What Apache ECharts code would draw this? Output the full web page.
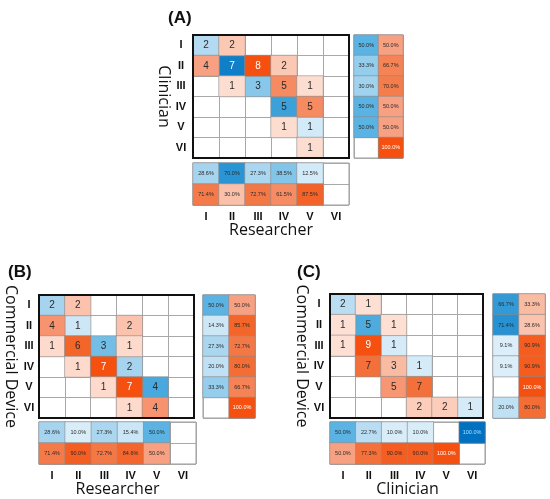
<!DOCTYPE html>
<html>
<head>
<meta charset="utf-8">
<script src="https://cdn.jsdelivr.net/npm/echarts@6/dist/echarts.min.js"></script>
<style>
  html, body { margin: 0; padding: 0; background: #fff; }
  #main { width: 550px; height: 499px; }
</style>
</head>
<body>
<div id="main"></div>
<script>
// 分级标签
var levels = ["I", "II", "III", "IV", "V", "VI"];
var sideCats = ["agree", "disagree"];

// (A) Clinician x Researcher
var countsA = [
  [2, 2, 0, 0, 0, 0],
  [4, 7, 8, 2, 0, 0],
  [0, 1, 3, 5, 1, 0],
  [0, 0, 0, 5, 5, 0],
  [0, 0, 0, 1, 1, 0],
  [0, 0, 0, 0, 1, 0]
];
var rowAgreeA = [50.0, 33.3, 30.0, 50.0, 50.0, 0];
var rowDisagreeA = [50.0, 66.7, 70.0, 50.0, 50.0, 100.0];
var colAgreeA = [28.6, 70.0, 27.3, 38.5, 12.5, 0];
var colDisagreeA = [71.4, 30.0, 72.7, 61.5, 87.5, 0];

// (B) Commercial Device x Researcher
var countsB = [
  [2, 2, 0, 0, 0, 0],
  [4, 1, 0, 2, 0, 0],
  [1, 6, 3, 1, 0, 0],
  [0, 1, 7, 2, 0, 0],
  [0, 0, 1, 7, 4, 0],
  [0, 0, 0, 1, 4, 0]
];
var rowAgreeB = [50.0, 14.3, 27.3, 20.0, 33.3, 0];
var rowDisagreeB = [50.0, 85.7, 72.7, 80.0, 66.7, 100.0];
var colAgreeB = [28.6, 10.0, 27.3, 15.4, 50.0, 0];
var colDisagreeB = [71.4, 90.0, 72.7, 84.6, 50.0, 0];

// (C) Commercial Device x Clinician
var countsC = [
  [2, 1, 0, 0, 0, 0],
  [1, 5, 1, 0, 0, 0],
  [1, 9, 1, 0, 0, 0],
  [0, 7, 3, 1, 0, 0],
  [0, 0, 5, 7, 0, 0],
  [0, 0, 0, 2, 2, 1]
];
var rowAgreeC = [66.7, 71.4, 9.1, 9.1, 0, 20.0];
var rowDisagreeC = [33.3, 28.6, 90.9, 90.9, 100.0, 80.0];
var colAgreeC = [50.0, 22.7, 10.0, 10.0, 0, 100.0];
var colDisagreeC = [50.0, 77.3, 90.0, 90.0, 100.0, 0];

var myChart = echarts.init(document.getElementById("main"));

// 每个面板的位置: 主矩阵 / 右侧 / 底部
var layouts = [
  { main: [193, 35, 156, 123], right: [354, 35, 49, 123], bottom: [193, 163, 156, 42],
    yName: "Clinician", xName: "Researcher", yGap: 21, yMargin: 12, title: [163, 5] },
  { main: [39, 295, 155, 123], right: [203, 295, 52, 123], bottom: [39, 422, 157, 42],
    yName: "Commercial Device", yGap: 20, yMargin: 10, xName: "Researcher", title: [3, 259] },
  { main: [330, 294, 153, 124], right: [493, 294, 52, 124], bottom: [330, 422, 155, 42],
    yName: "Commercial Device", yGap: 20, yMargin: 11, xName: "Clinician", title: [292, 259] }
];
var panels = [
  [countsA, rowAgreeA, rowDisagreeA, colAgreeA, colDisagreeA],
  [countsB, rowAgreeB, rowDisagreeB, colAgreeB, colDisagreeB],
  [countsC, rowAgreeC, rowDisagreeC, colAgreeC, colDisagreeC]
];
var titles = ["(A)", "(B)", "(C)"];

var grids = [], xAxes = [], yAxes = [], series = [], titleList = [];
var blueIdx = [], orangeIdx = [];

function gridOf(r, border, width, z) {
  return { left: r[0], top: r[1], width: r[2], height: r[3], show: true,
    borderColor: border, borderWidth: width, backgroundColor: "transparent", z: z };
}
var split = { show: true, interval: 0, lineStyle: { color: "#a8a8a8", width: 1 } };
var hidden = { show: false };

// 单元格数据 [x, y, 归一化值, 原值]
function cell(x, y, n, raw, isPct, blue) {
  var item = { value: [x, y, n, raw] };
  if (isPct && n >= 0.99) item.label = { color: blue ? "#9fe0ff" : "#fff" };
  if (!isPct && n >= 0.87) item.label = { color: "#fff" };
  return item;
}
function heat(gi, data, isPct, blue) {
  if (blue) blueIdx.push(series.length); else orangeIdx.push(series.length);
  series.push({
    type: "heatmap",
    xAxisIndex: gi,
    yAxisIndex: gi,
    data: data,
    label: {
      show: true,
      fontSize: isPct ? 5.5 : 10,
      color: "#2b2b2b",
      formatter: function (p) {
        return isPct ? p.value[3].toFixed(1) + "%" : p.value[3];
      }
    },
    itemStyle: { borderColor: "#8c8c8c", borderWidth: 0.6 },
    emphasis: { disabled: true }
  });
}

panels.forEach(function (pd, k) {
  var L = layouts[k];
  var counts = pd[0];
  var max = Math.max.apply(null, counts.map(function (r) { return Math.max.apply(null, r); }));
  var g0 = k * 3, g1 = k * 3 + 1, g2 = k * 3 + 2;

  grids.push(gridOf(L.main, "#111", 2, 5));
  grids.push(gridOf(L.right, "#9a9a9a", 1, 0));
  grids.push(gridOf(L.bottom, "#9a9a9a", 1, 0));

  // 主矩阵坐标轴
  xAxes.push({ type: "category", gridIndex: g0, data: levels, axisLabel: hidden,
    axisTick: hidden, axisLine: hidden, splitLine: split });
  yAxes.push({ type: "category", gridIndex: g0, data: levels, inverse: true,
    axisTick: hidden, axisLine: hidden, splitLine: split,
    axisLabel: { fontWeight: "bold", fontSize: 11, color: "#111", align: "center", margin: L.yMargin },
    name: L.yName, nameLocation: "middle", nameRotate: -90, nameGap: L.yGap,
    nameTextStyle: { fontSize: 16, color: "#111", fontFamily: "Open Sans" } });
  // 右侧
  xAxes.push({ type: "category", gridIndex: g1, data: sideCats, axisLabel: hidden,
    axisTick: hidden, axisLine: hidden, splitLine: split });
  yAxes.push({ type: "category", gridIndex: g1, data: levels, inverse: true, axisLabel: hidden,
    axisTick: hidden, axisLine: hidden, splitLine: split });
  // 底部
  xAxes.push({ type: "category", gridIndex: g2, data: levels,
    axisTick: hidden, axisLine: hidden, splitLine: split,
    axisLabel: { fontWeight: "bold", fontSize: 11, color: "#111", margin: 6 },
    name: L.xName, nameLocation: "middle", nameGap: 17,
    nameTextStyle: { fontSize: 16, color: "#111", fontFamily: "Open Sans", verticalAlign: "top" } });
  yAxes.push({ type: "category", gridIndex: g2, data: sideCats, inverse: true, axisLabel: hidden,
    axisTick: hidden, axisLine: hidden, splitLine: split });

  var mb = [], mo = [];
  counts.forEach(function (row, i) {
    row.forEach(function (v, j) {
      if (!v) return;
      (i === j ? mb : mo).push(cell(j, i, v / max, v, false, i === j));
    });
  });
  heat(g0, mb, false, true);
  heat(g0, mo, false, false);

  var rb = [], ro = [], cb = [], co = [];
  levels.forEach(function (lv, i) {
    if (pd[1][i]) rb.push(cell(0, i, pd[1][i] / 100, pd[1][i], true, true));
    if (pd[2][i]) ro.push(cell(1, i, pd[2][i] / 100, pd[2][i], true, false));
    if (pd[3][i]) cb.push(cell(i, 0, pd[3][i] / 100, pd[3][i], true, true));
    if (pd[4][i]) co.push(cell(i, 1, pd[4][i] / 100, pd[4][i], true, false));
  });
  heat(g1, rb, true, true);
  heat(g1, ro, true, false);
  heat(g2, cb, true, true);
  heat(g2, co, true, false);

  titleList.push({ text: titles[k], left: L.title[0], top: L.title[1],
    textStyle: { fontSize: 17, fontWeight: "bold", color: "#111", fontFamily: "Liberation Sans" } });
});

var option = {
  backgroundColor: "#fff",
  animation: false,
  textStyle: { fontFamily: "Liberation Sans" },
  title: titleList,
  grid: grids,
  xAxis: xAxes,
  yAxis: yAxes,
  visualMap: [
    { show: false, type: "continuous", dimension: 2, min: 0, max: 1, seriesIndex: blueIdx,
      inRange: { color: ["#f2f9fe", "#b3daf1", "#5ab3e2", "#1e8dd0", "#0070c0"] } },
    { show: false, type: "continuous", dimension: 2, min: 0, max: 1, seriesIndex: orangeIdx,
      inRange: { color: ["#fff2ec", "#fbc8b4", "#f8a082", "#f4743f", "#f5500f"] } }
  ],
  series: series
};
myChart.setOption(option);
</script>
</body>
</html>
